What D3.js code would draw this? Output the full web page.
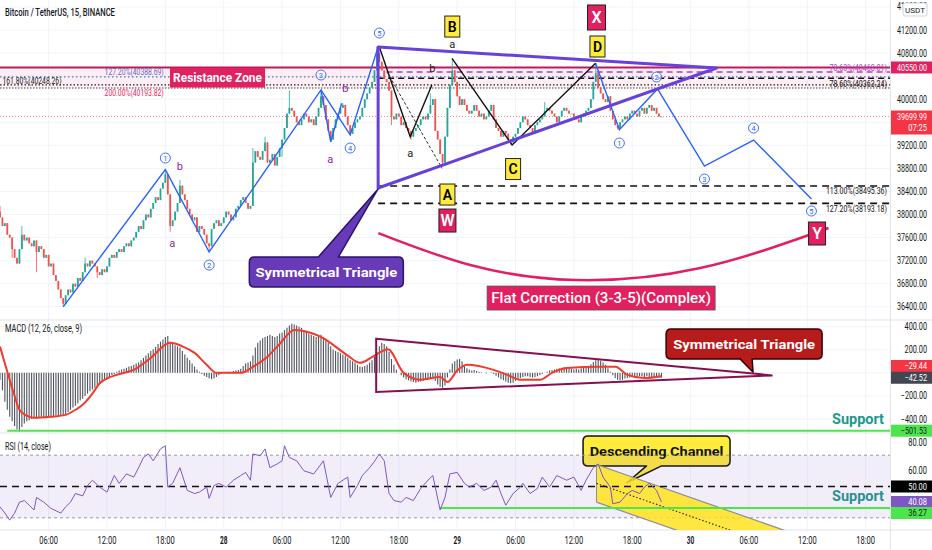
<!DOCTYPE html>
<html>
<head>
<meta charset="utf-8">
<script src="https://cdn.jsdelivr.net/npm/d3@7"></script>
<style>
html,body{margin:0;padding:0;background:#fff;}
svg{display:block;font-family:Roboto,"Liberation Sans",sans-serif;}
</style>
</head>
<body>
<div id="chart"></div>
<script>
// ---- data (BTCUSDT 15m, bar 0 = 27 Jan 01:00) ----
const firstOpen = 38050;
const closes = [
  37950,37800,37850,37650,37600,37400,37250,37150,37400,37650,37550,37600,37500,37450,37550,37350,37450,37400,37250,37300,37100,37150,36950,36850,36700,36550,36450,
  36600,36700,36650,36800,36750,36900,36850,37000,37150,37100,37200,37150,37100,37000,36950,37050,37000,37100,37250,37300,37250,37350,37400,37350,37450,37500,37450,37550,37600,37700,37800,37750,37900,38000,37950,38100,38200,38300,38250,38450,38550,38700,
  38350,37800,37900,38050,38200,38500,38350,38250,38100,38000,37900,37950,37700,37800,37750,37650,37500,37450,
  37750,37850,37900,37800,37850,37950,38050,38000,37900,37950,38100,38150,38250,38300,38200,38100,38150,38900,39100,39000,38950,39100,39250,38900,38950,39050,38850,39000,39150,39300,39500,39750,39850,39800,39700,39600,39550,39650,39750,39700,39600,39650,39550,39700,39850,40050,
  39900,39650,39450,39300,39500,39650,39750,39850,39900,39700,39550,39400,39500,39600,39650,39700,39850,40000,40100,40200,40300,40500,40800,
  40650,40500,40350,40300,40150,39700,39650,39750,39700,39550,
  39600,39500,39450,39350,39450,39500,39550,39650,39700,39650,
  39750,39900,40000,39450,39300,39050,38900,39350,39850,40250,
  40500,40300,40050,39900,40000,39900,39800,39750,39800,39900,
  39800,39700,39750,39650,39700,39800,39900,39650,39500,39450,
  39350,39450,39400,39300,39250,39350,39400,39500,39600,39700,
  39650,39550,39500,39400,39550,39600,39650,39700,39800,39850,
  39800,39750,39700,39600,39700,39800,39850,39800,39750,39750,
  39700,39650,39600,39700,39750,39800,39850,40000,40300,40450,
  40200,40100,40000,39950,40050,39800,39650,39550,39500,39600,39650,39700,39650,39750,39800,39750,39700,39800,39850,39750,39850,39900,39800,39850,39750,39700,39700
];
// [bar, high, low] where a wick reaches past the body
const wickExtremes = [
  [0,38150,null],[5,null,37250],[9,37800,null],[15,null,37000],[26,null,36400],[35,37250,null],[40,null,36900],
  [68,38780,null],[70,null,37700],[74,38600,null],[86,null,37350],[104,39150,null],[109,39350,null],[116,null,39000],
  [119,40150,null],[132,40160,null],[136,null,39260],[141,39930,null],[144,null,39380],[155,40905,null],[161,null,39550],
  [169,null,39300],[177,40100,null],[182,null,38830],[186,40700,null],[210,null,39210],[224,39950,null],[245,40630,null],[254,null,39470]
];
const macdHist = [
  -60,-150,-250,-320,-380,-420,-460,-490,-510,-470,
  -440,-420,-410,-400,-390,-395,-385,-380,-390,-385,
  -380,-375,-380,-370,-375,-365,-370,-360,-340,-320,
  -300,-285,-265,-240,-225,-200,-180,-160,-145,-130,
  -110,-95,-80,-65,-50,-35,-20,-10,10,20,
  30,35,45,55,60,70,80,90,110,130,
  150,170,190,205,225,250,270,290,310,320,
  270,250,240,230,220,190,160,130,110,80,
  55,30,10,-10,-25,-35,-50,-55,-50,-35,
  -20,-10,0,5,10,5,15,20,25,35,
  60,80,90,100,150,220,260,280,300,310,
  320,330,320,310,320,340,350,370,390,410,
  425,420,410,400,390,370,360,340,330,320,
  310,320,330,310,290,260,230,200,190,180,
  170,160,150,130,110,100,90,70,55,50,
  60,70,
  90,110,140,180,230,260,250,230,180,120,
  70,30,0,-20,-40,-55,-65,-75,-80,-85,
  -80,-75,-70,-60,-50,-45,-40,-70,-100,-120,
  -130,-110,-40,30,80,100,115,120,100,70,
  40,30,20,25,15,10,5,0,-5,0,
  5,-10,-25,-40,-55,-65,-75,-85,-90,-85,
  -70,-55,-45,-35,-30,-30,-35,-40,-35,-30,
  -20,-10,0,10,20,25,30,35,40,45,
  50,45,40,35,30,35,30,40,45,50,
  60,75,95,110,115,105,90,70,40,10,
  -20,-45,-60,-65,-60,-50,-45,-40,-35,-40,
  -35,-30,-30,-35,-30,-35,-40,-40,-45,-40,-42
];
// signal line [bar, value]
const macdSignal = [
  [0,228],[3,10],[6,-200],[8,-320],[11,-370],[14,-390],[21,-380],[27,-364],[31,-320],[34,-277],[38,-180],[41,-90],
  [45,-40],[48,-17],[55,26],[62,130],[70,260],[75,230],[80,173],[85,70],[89,0],[99,0],[104,52],[110,140],[115,250],
  [121,372],[128,345],[133,300],[137,243],[143,150],[148,87],[154,150],[159.5,205],[166,0],[173,-60],[181,-35],
  [184,-80],[188,20],[192,70],[203,26],[209,-20],[214,-60],[222,-60],[227,0],[233,43],[247,52],[253,52],[258,-17],
  [265,-45],[272,-29]
];
// RSI [bar, value]
const rsiPoints = [
  [0,37],[2,33],[4,28.5],[6,33],[8,40],[10,41],[12,38],[14,35],[15,43],[18,40],[21,36],[25,33],[27,37],[29,40],
  [31,45.5],[34,44],[36,50.6],[38,54],[41,49.6],[44,46.4],[47,57],[49,52],[52,58],[55,56],[57,62],[59,68.5],
  [61,70.8],[63,66.4],[66,74],[68,76],[69,49.6],[71,52],[74,62],[77,47.5],[80,45.5],[82,46.4],[85,49.6],[86,42.4],
  [88,50.6],[90,52],[93,49.6],[96,54],[99,57],[101,59],[103,54],[104,70.8],[107,69.6],[109,74],[111,62],[114,64.4],
  [116,66.4],[117,76],[119,68.5],[122,66.4],[125,60],[129,58],[133,66.4],[136,43],[139,52],[143,56],[144,43],
  [147,50.6],[149,57],[152,62],[154,66],[156,70.8],[158,66.4],[160,45.5],[162,41],[165,40],[167,43],[170,41],
  [173,48.7],[176,54],[178,57],[179,49.6],[181,35],[183,43],[185,58],[188,59],[191,52],[193,49.6],[196,52],
  [199,47.5],[202,49.6],[204,54],[206,45.5],[208,38],[211,45.5],[214,49.6],[215,52],[218,45.5],[221,48.7],
  [223,56],[226,49.6],[229,57],[233,54],[236,56],[239,47.5],[241,54],[244,62],[246,64.4],[248,56],[251,49.6],
  [252,39],[255,40],[258,45.5],[260,47.5],[263,45.5],[265,49.6],[267,52],[270,47.5],[272,40.08]
];
const priceTicks = [41600,41200,40800,40400,40000,39600,39200,38800,38400,38000,37600,37200,36800,36400];
const macdTicks = [400,200,-200,-400];
const rsiTicks = [80,60];

// levels
const resistanceTop = 40550, resistanceBottom = 40193.82;
const lastPrice = 39699.99, lastMacd = -42.52, lastSignal = -29.44, lastRsi = 40.08;
const macdSupport = -501.53, rsiSupport = 36.27;
const fibLeft = [
  {label:"127.20%(40388.69)", price:40388.69, color:"#5c6bc0", dash:"1.5,2.5", labelBar:43, from:0, dy:-2},
  {label:"161.80%(40248.26)", price:40248.26, color:"#222", dash:"1.5,2", labelBar:1, from:0, dy:-1},
  {label:"200.00%(40193.82)", price:40193.82, color:"#e91e63", dash:null, labelBar:43, from:null, dy:7.5}
];
const fibRight = [
  {label:"78.60%(40468.01)", price:40472, color:"#ab47bc", dash:"6,4", from:159, dy:-1},
  {label:"78.60%(40363.24)", price:40363.24, color:"#111", dash:"6,4", from:155.5, dy:8.5},
  {label:"113.00%(38495.36)", price:38495.36, color:"#111", dash:"7,5", from:155.5, dy:8.5},
  {label:"127.20%(38193.18)", price:38193.18, color:"#111", dash:"7,5", from:155.5, dy:8.5}
];

// wave drawings [bar, price]
const blueWaves = [
  [[26,36400],[68,38780],[86,37350],[132,40160],[136,39260]],
  [[132,40160],[144,39380],[155.5,40905]],
  [[136,39260],[140.5,39930]],
  [[244.9,40622],[254.7,39470],[270.4,40177],[289.7,38841],[309.9,39292],[333.7,38269]]
];
const blackWaves = [
  [[156,40905],[168.7,39349],[177.6,40246]],
  [[185.9,40709],[210.6,39206],[244.9,40622]]
];
const blackDashed = [[159.1,40477],[181.8,38801]];
const triangleMain = [[155.5,40905],[294.7,40541],[155.5,38460]];
const triangleMacd = [[154.7,295],[317.7,-22],[154.7,-165]];
const flatArc = [[155.6,37679],[193.4,37124],[236.6,36864],[288,37072],[340.7,37766]];
const channelUpper = [[245.3,64],[345,9.8]];
const channelLower = [[245.3,40],[345,-14.2]];
const channelMid = [[245.3,52],[345,-2.2]];

const circledLabels = [
  ["1",68,38980],["2",86,37124],["3",132,40420],["4",144,39153],["5",156,41148],
  ["1",254.7,39240],["2",270,40385],["3",289.7,38616],["4",309.9,39500],["5",333.7,38061]
];
const purpleLetters = [["b",74,38841],["a",70.8,37506],["a",135.8,38963],["b",142,40177]];
const blackLetters = [["a",186,40940],["b",177.8,40524],["a",168.7,39067]];
const yellowBoxes = [["B",186,41260],["D",245.7,40914],["C",211,38789],["A",184,38347]];
const redBoxes = [["X",245.3,41417],["W",184,37896],["Y",336,37671]];

// ---- layout ----
const W = 932, H = 550, plotR = 890;
const startMs = Date.UTC(2022,0,27,1,0), barMs = 15*60*1000;
const svg = d3.select("#chart").append("svg").attr("width",W).attr("height",H);

const x = d3.scaleUtc()
  .domain([new Date(startMs), new Date(Date.UTC(2022,0,30,20,30))])
  .range([0, plotR]);
const bx = i => x(new Date(startMs + i*barMs));
const yP = d3.scaleLinear().domain([41200,36400]).range([30,306.8]);
const yM = d3.scaleLinear().domain([400,-400]).range([326.7,419]);
const yR = d3.scaleLinear().domain([80,30]).range([439.5,517.8]);

const panes = {main:[0,320], macd:[320,433], rsi:[433,530]};
const defs = svg.append("defs");
Object.entries(panes).forEach(([k,[a,b]]) => {
  defs.append("clipPath").attr("id","clip-"+k).append("rect").attr("x",0).attr("y",a).attr("width",plotR).attr("height",b-a);
});

// condensed text: squeeze horizontally to a target width, like the original screenshot
function fitText(parent, str, px, py, width, attrs) {
  const t = parent.append("text").attr("x",0).attr("y",0);
  Object.entries(attrs || {}).forEach(([k,v]) => t.attr(k,v));
  t.text(str);
  const w = t.node().getComputedTextLength() || width;
  t.attr("transform", `translate(${px},${py}) scale(${(width/w).toFixed(3)},1)`);
  return t;
}

// grid
const grid = svg.append("g");
const timeTicks = x.ticks(d3.utcHour.every(6));
grid.selectAll("line.v").data(timeTicks).join("line")
  .attr("x1",d=>x(d)).attr("x2",d=>x(d)).attr("y1",0).attr("y2",530)
  .attr("stroke","#f0f3fa");
grid.selectAll("line.hp").data(priceTicks).join("line")
  .attr("x1",0).attr("x2",plotR).attr("y1",d=>yP(d)).attr("y2",d=>yP(d)).attr("stroke","#f0f3fa");
grid.selectAll("line.hm").data(macdTicks.concat([0])).join("line")
  .attr("x1",0).attr("x2",plotR).attr("y1",d=>yM(d)).attr("y2",d=>yM(d)).attr("stroke","#f0f3fa");

// separators
[320,433,530].forEach(yy => svg.append("line").attr("x1",0).attr("x2",W).attr("y1",yy).attr("y2",yy).attr("stroke","#e0e3eb"));
svg.append("line").attr("x1",plotR+0.5).attr("x2",plotR+0.5).attr("y1",0).attr("y2",550).attr("stroke","#e0e3eb");

// ---------- main pane ----------
const gMain = svg.append("g").attr("clip-path","url(#clip-main)");
gMain.append("rect").attr("x",0).attr("width",plotR)
  .attr("y",yP(resistanceTop)).attr("height",yP(resistanceBottom)-yP(resistanceTop))
  .attr("fill","#e91e63").attr("fill-opacity",0.07);
gMain.append("line").attr("x1",0).attr("x2",plotR).attr("y1",yP(resistanceTop)).attr("y2",yP(resistanceTop))
  .attr("stroke","#c2185b").attr("stroke-width",2);
gMain.append("line").attr("x1",0).attr("x2",plotR).attr("y1",yP(resistanceBottom)).attr("y2",yP(resistanceBottom))
  .attr("stroke","#444").attr("stroke-width",1).attr("stroke-dasharray","1.5,1.5");

fibLeft.filter(f=>f.from!==null).forEach(f => {
  gMain.append("line").attr("x1",bx(f.from)).attr("x2",plotR).attr("y1",yP(f.price)).attr("y2",yP(f.price))
    .attr("stroke",f.color).attr("stroke-width",1.3).attr("stroke-dasharray",f.dash);
});
fibRight.forEach(f => {
  gMain.append("line").attr("x1",bx(f.from)).attr("x2",plotR).attr("y1",yP(f.price)).attr("y2",yP(f.price))
    .attr("stroke",f.color).attr("stroke-width",1.6).attr("stroke-dasharray",f.dash);
});
gMain.append("line").attr("x1",0).attr("x2",plotR).attr("y1",yP(lastPrice)).attr("y2",yP(lastPrice))
  .attr("stroke","#f23645").attr("stroke-opacity",0.6).attr("stroke-dasharray","1,2");

// candles
const candles = closes.map((c,i) => {
  const o = i === 0 ? firstOpen : closes[i-1];
  return {i, o, c, h: Math.max(o,c), l: Math.min(o,c)};
});
wickExtremes.forEach(([i,h,l]) => {
  if (!candles[i]) return;
  if (h !== null) candles[i].h = Math.max(candles[i].h, h);
  if (l !== null) candles[i].l = Math.min(candles[i].l, l);
});
const col = d => d.c >= d.o ? "#26a69a" : "#ef5350";
gMain.append("g").selectAll("line").data(candles).join("line")
  .attr("x1",d=>bx(d.i)).attr("x2",d=>bx(d.i))
  .attr("y1",d=>yP(d.h)).attr("y2",d=>yP(d.l))
  .attr("stroke",col).attr("stroke-width",0.8);
gMain.append("g").selectAll("rect").data(candles).join("rect")
  .attr("x",d=>bx(d.i)-0.9).attr("width",1.8)
  .attr("y",d=>yP(Math.max(d.o,d.c)))
  .attr("height",d=>Math.max(0.8, yP(Math.min(d.o,d.c))-yP(Math.max(d.o,d.c))))
  .attr("fill",col);

const lineP = d3.line().x(d=>bx(d[0])).y(d=>yP(d[1]));
blueWaves.forEach(w => gMain.append("path").attr("d",lineP(w)).attr("fill","none").attr("stroke","#2962ff").attr("stroke-width",1.4));
blackWaves.forEach(w => gMain.append("path").attr("d",lineP(w)).attr("fill","none").attr("stroke","#111").attr("stroke-width",1.4));
gMain.append("path").attr("d",lineP(blackDashed)).attr("fill","none").attr("stroke","#333").attr("stroke-width",1).attr("stroke-dasharray","3,2");

gMain.append("path").attr("d",lineP(triangleMain)+"Z").attr("fill","none")
  .attr("stroke","#6741d9").attr("stroke-width",3).attr("stroke-linejoin","round");

gMain.append("path").attr("d",d3.line().x(d=>bx(d[0])).y(d=>yP(d[1])).curve(d3.curveNatural)(flatArc))
  .attr("fill","none").attr("stroke","#e3205f").attr("stroke-width",2.5);

// labels in main pane
const gLab = svg.append("g");
fibLeft.forEach(f => {
  fitText(gLab, f.label, bx(f.labelBar), yP(f.price)+f.dy, f.label.length*3.48, {"font-size":9, fill:f.color});
});
fibRight.forEach(f => {
  fitText(gLab, f.label, plotR-3, yP(f.price)+f.dy, f.label.length*3.6, {"font-size":9, fill:f.color, "text-anchor":"end"});
});
gLab.append("rect").attr("x",170).attr("y",yP(resistanceTop)+0.5).attr("width",95).attr("height",yP(resistanceBottom)-yP(resistanceTop)-1)
  .attr("fill","#e3205f");
fitText(gLab, "Resistance Zone", 217.5, yP(resistanceTop)+15, 89,
  {"font-size":13, "font-weight":700, fill:"#fff", "text-anchor":"middle"});

circledLabels.forEach(([t,b,p]) => {
  const cx = bx(b), cy = yP(p);
  gLab.append("circle").attr("cx",cx).attr("cy",cy).attr("r",5).attr("fill","#fff").attr("fill-opacity",0.6)
    .attr("stroke","#2962ff").attr("stroke-width",0.9);
  gLab.append("text").attr("x",cx).attr("y",cy+2.8).attr("text-anchor","middle").attr("font-size",7.5)
    .attr("fill","#2962ff").text(t);
});
purpleLetters.forEach(([t,b,p]) => gLab.append("text").attr("x",bx(b)).attr("y",yP(p)+3.5).attr("text-anchor","middle")
  .attr("font-size",11).attr("fill","#8e24aa").text(t));
blackLetters.forEach(([t,b,p]) => gLab.append("text").attr("x",bx(b)).attr("y",yP(p)+3.5).attr("text-anchor","middle")
  .attr("font-size",11).attr("fill","#222").text(t));

function letterBox(t,b,p,fill,tc,w,h,fs) {
  const cx = bx(b), cy = yP(p);
  gLab.append("rect").attr("x",cx-w/2).attr("y",cy-h/2).attr("width",w).attr("height",h)
    .attr("fill",fill).attr("stroke","#222").attr("stroke-width",1);
  gLab.append("text").attr("x",cx).attr("y",cy+fs*0.36).attr("text-anchor","middle")
    .attr("font-size",fs).attr("font-weight",600).attr("fill",tc).text(t);
}
yellowBoxes.forEach(([t,b,p]) => letterBox(t,b,p,"#ffeb3b","#000",15,21,14));
redBoxes.forEach(([t,b,p]) => letterBox(t,b,p,"#e3205f","#fff",t==="X"?18:17,t==="X"?25:23,16));

function calloutPath(x0,y0,w,h,r,side,b1,b2,tx,ty) {
  let d = `M${x0+r},${y0}`;
  if (side==="top") d += `L${b1},${y0}L${tx},${ty}L${b2},${y0}`;
  d += `L${x0+w-r},${y0}Q${x0+w},${y0} ${x0+w},${y0+r}L${x0+w},${y0+h-r}Q${x0+w},${y0+h} ${x0+w-r},${y0+h}`;
  if (side==="bottom") d += `L${b2},${y0+h}L${tx},${ty}L${b1},${y0+h}`;
  d += `L${x0+r},${y0+h}Q${x0},${y0+h} ${x0},${y0+h-r}L${x0},${y0+r}Q${x0},${y0} ${x0+r},${y0}Z`;
  return d;
}
function callout(c) {
  const x0 = c.cx-c.w/2, y0 = c.cy-c.h/2;
  gLab.append("path").attr("d",calloutPath(x0,y0,c.w,c.h,5,c.side,c.cx+c.b1,c.cx+c.b2,c.tx,c.ty))
    .attr("fill",c.fill).attr("stroke",c.stroke).attr("stroke-width",1.5).attr("stroke-linejoin","round");
  fitText(gLab, c.text, c.cx, c.cy+4.8, c.tl, {"font-size":13.5, "font-weight":700, fill:c.color, "text-anchor":"middle"});
}
callout({text:"Symmetrical Triangle", cx:bx(134.2), cy:yP(37003), w:154, h:30, side:"top", b1:-8, b2:12,
  tx:bx(155.4), ty:yP(38440), fill:"#673ab7", stroke:"#2a1470", color:"#fff", tl:142});

gLab.append("rect").attr("x",bx(247.2)-114).attr("y",yP(36552)-12).attr("width",228).attr("height",24)
  .attr("fill","#e3205f").attr("stroke","#555").attr("stroke-width",0.8);
fitText(gLab, "Flat Correction (3-3-5)(Complex)", bx(247.2), yP(36552)+5, 220,
  {"font-size":14, "font-weight":500, fill:"#fff", "text-anchor":"middle"});

// ---------- MACD pane ----------
const gMacd = svg.append("g").attr("clip-path","url(#clip-macd)");
gMacd.append("g").selectAll("line").data(macdHist).join("line")
  .attr("x1",(d,i)=>bx(i)).attr("x2",(d,i)=>bx(i)).attr("y1",yM(0)).attr("y2",d=>yM(d))
  .attr("stroke","#50535e").attr("stroke-width",1.1);
gMacd.append("path").attr("d",d3.line().x(d=>bx(d[0])).y(d=>yM(d[1])).curve(d3.curveMonotoneX)(macdSignal))
  .attr("fill","none").attr("stroke","#f23b2d").attr("stroke-width",2);
gMacd.append("path").attr("d",d3.line().x(d=>bx(d[0])).y(d=>yM(d[1]))(triangleMacd)+"Z")
  .attr("fill","none").attr("stroke","#880e4f").attr("stroke-width",2);
gMacd.append("line").attr("x1",bx(3)).attr("x2",plotR).attr("y1",yM(macdSupport)).attr("y2",yM(macdSupport))
  .attr("stroke","#4ce64c").attr("stroke-width",2);

callout({text:"Symmetrical Triangle", cx:bx(306), cy:yM(251), w:156, h:30, side:"bottom", b1:-4, b2:8,
  tx:bx(309.7), ty:yM(5), fill:"#b71c1c", stroke:"#3d0000", color:"#fff", tl:142});

// ---------- RSI pane ----------
const gRsi = svg.append("g").attr("clip-path","url(#clip-rsi)");
gRsi.append("rect").attr("x",0).attr("width",plotR).attr("y",yR(70)).attr("height",yR(30)-yR(70))
  .attr("fill","#7e57c2").attr("fill-opacity",0.1);
[70,30].forEach(v => gRsi.append("line").attr("x1",0).attr("x2",plotR).attr("y1",yR(v)).attr("y2",yR(v))
  .attr("stroke","#9598a1").attr("stroke-dasharray","3,3"));
const lineR = d3.line().x(d=>bx(d[0])).y(d=>yR(d[1]));
gRsi.append("path").attr("d",lineR([channelUpper[0],channelUpper[1],channelLower[1],channelLower[0]])+"Z")
  .attr("fill","#ffe21f").attr("fill-opacity",0.85).attr("stroke","none");
gRsi.append("path").attr("d",lineR(channelUpper)).attr("stroke","#8a8f99").attr("stroke-width",1.2);
gRsi.append("path").attr("d",lineR(channelLower)).attr("stroke","#8a8f99").attr("stroke-width",1.2);
gRsi.append("path").attr("d",lineR([channelUpper[0],channelLower[0]])).attr("stroke","#8a8f99").attr("stroke-width",1);
gRsi.append("path").attr("d",lineR(channelMid)).attr("stroke","#333").attr("stroke-width",1.2).attr("stroke-dasharray","1.5,2");
gRsi.append("line").attr("x1",0).attr("x2",plotR).attr("y1",yR(50)).attr("y2",yR(50))
  .attr("stroke","#111").attr("stroke-width",1.5).attr("stroke-dasharray","7,5");
gRsi.append("line").attr("x1",bx(181)).attr("x2",plotR).attr("y1",yR(rsiSupport)).attr("y2",yR(rsiSupport))
  .attr("stroke","#4ce64c").attr("stroke-width",2);
gRsi.append("path").attr("d",lineR(rsiPoints)).attr("fill","none").attr("stroke","#7e57c2").attr("stroke-width",1);

callout({text:"Descending Channel", cx:bx(270), cy:yR(72.7), w:147, h:30, side:"bottom", b1:-10, b2:5,
  tx:bx(257.8), ty:yR(52.4), fill:"#ffeb3b", stroke:"#111", color:"#111", tl:134});

[424,501].forEach(yy => fitText(gLab, "Support", 884, yy, 52,
  {"font-size":15, "font-weight":700, fill:"#1b998b", "text-anchor":"end"}));

// titles
fitText(svg, "Bitcoin / TetherUS, 15, BINANCE", 5, 15.5, 110, {"font-size":11.5, "font-weight":500, fill:"#131722"});
fitText(svg, "MACD (12, 26, close, 9)", 5, 331.5, 77, {"font-size":10.5, fill:"#131722"});
fitText(svg, "RSI (14, close)", 5, 449.5, 46, {"font-size":10.5, fill:"#131722"});

// ---------- axes ----------
const axRight = 927;
const gAx = svg.append("g");
const fmt2 = d3.format(".2f");
// axis value boxes (drawn later); tick labels hidden underneath them are skipped
const boxes = [
  {y:yP(resistanceTop), fill:"#e3205f", tc:"#fff", lines:[fmt2(resistanceTop)]},
  {y:yP(lastPrice), fill:"#f23645", tc:"#fff", lines:[fmt2(lastPrice),"07:25"], h:24},
  {y:366, fill:"#f23645", tc:"#fff", lines:[fmt2(lastSignal)]},
  {y:yM(lastMacd), fill:"#434651", tc:"#fff", lines:[fmt2(lastMacd)]},
  {y:yM(macdSupport), fill:"#4ce64c", tc:"#131722", lines:[fmt2(macdSupport)]},
  {y:yR(50), fill:"#000", tc:"#fff", lines:["50.00"]},
  {y:502, fill:"#7e57c2", tc:"#fff", lines:[fmt2(lastRsi)]},
  {y:513, fill:"#4ce64c", tc:"#131722", lines:[fmt2(rsiSupport)]}
];
const hidden = yy => boxes.some(b => yy > b.y-11 && yy < b.y-6.3+(b.h||12)+4);
const axLabel = (s, yy, fill, fs) => fitText(gAx, s, axRight, yy, s.length*3.75,
  {"font-size":fs||10, fill:fill||"#131722", "text-anchor":"end"});

priceTicks.filter(d=>!hidden(yP(d))).forEach(d => axLabel(fmt2(d), yP(d)+3.5));
macdTicks.forEach(d => axLabel(fmt2(d), yM(d)+3.5));
rsiTicks.forEach(d => axLabel(fmt2(d), yR(d)+(d===80?6:3.5)));
timeTicks.forEach(d => {
  const s = d.getUTCHours()===0 ? d3.utcFormat("%-d")(d) : d3.utcFormat("%H:%M")(d);
  fitText(gAx, s, x(d), 543.5, s.length*3.75,
    {"font-size":10, fill:"#131722", "text-anchor":"middle", "font-weight":d.getUTCHours()===0?700:400});
});

boxes.forEach(b => {
  const hh = b.h || 12;
  gAx.append("rect").attr("x",plotR+1).attr("y",b.y-6).attr("width",W-plotR-1).attr("height",hh).attr("fill",b.fill);
  b.lines.forEach((t,k) => axLabel(t, b.y+3.2+k*11, b.tc, 9));
});

gAx.append("rect").attr("x",903).attr("y",3).attr("width",24).attr("height",13).attr("rx",2)
  .attr("fill","#fff").attr("stroke","#d1d4dc");
gAx.append("text").attr("x",915).attr("y",12.5).attr("text-anchor","middle").attr("font-size",8)
  .attr("fill","#131722").text("USDT");
</script>
</body>
</html>
